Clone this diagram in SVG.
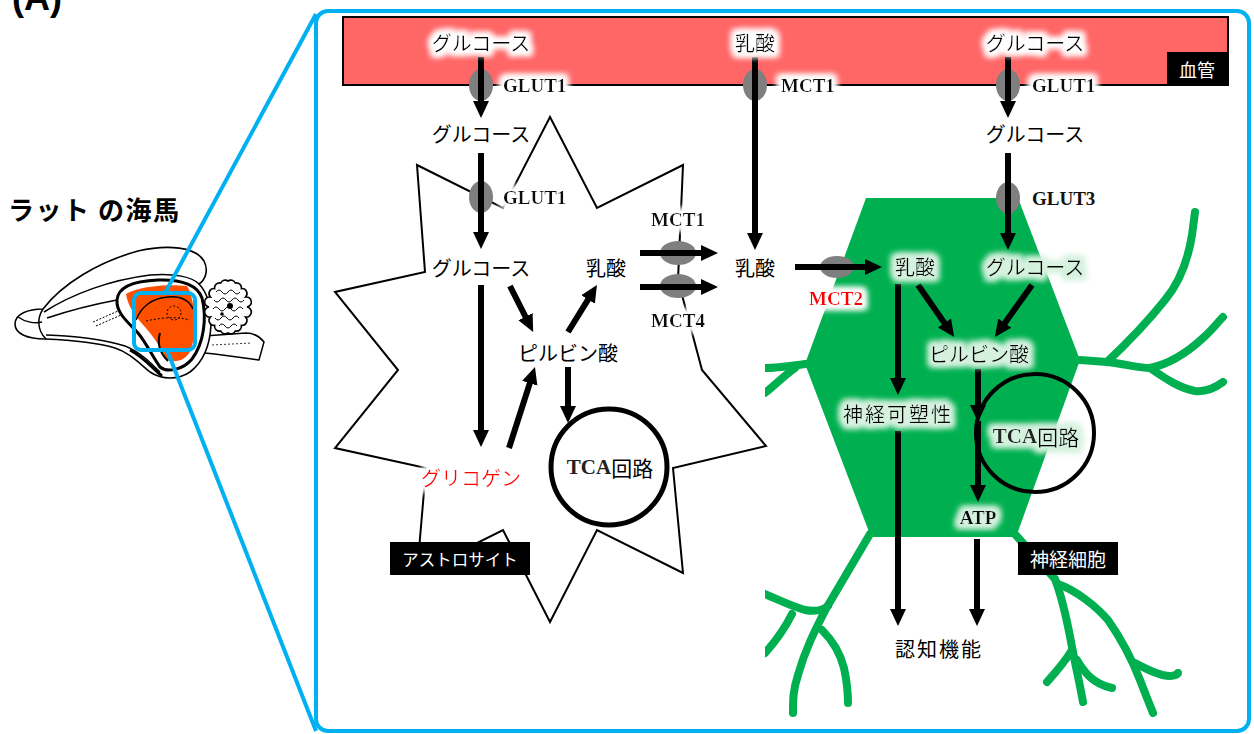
<svg xmlns="http://www.w3.org/2000/svg" width="1254" height="734" viewBox="0 0 1254 734">
  <style>
    .jp { font-family: "Noto Sans CJK JP", "Noto Sans", sans-serif; font-size: 20px; text-anchor: middle; dominant-baseline: central; fill: #000; }
    .tb { font-family: "Liberation Serif", "Times New Roman", serif; font-weight: bold; font-size: 19px; dominant-baseline: central; fill: #111; }
    .tag { fill: #000; }
    .tagt { font-family: "Noto Sans CJK JP", sans-serif; fill: #fff; text-anchor: middle; dominant-baseline: central; }
    .ar { stroke: #000; stroke-width: 6; fill: none; marker-end: url(#ah); }
    .tp { fill: #7f7f7f; }
    .den { fill: none; stroke: #00b050; stroke-width: 8; stroke-linecap: round; stroke-linejoin: round; }
    .gw { filter: url(#gw); }
    .gg { filter: url(#gg); }
    .ln { fill: none; stroke: #000; stroke-width: 1.5; }
  </style>
  <defs>
    <marker id="ah" markerUnits="userSpaceOnUse" markerWidth="18" markerHeight="18" viewBox="0 0 18 18" refX="2" refY="9" orient="auto">
      <path d="M0,1 L17,9 L0,17 Z" fill="#000"/>
    </marker>
    <filter id="gw" x="-30%" y="-70%" width="160%" height="240%">
      <feMorphology in="SourceAlpha" operator="dilate" radius="3.5" result="d"/>
      <feGaussianBlur in="d" stdDeviation="3" result="b"/>
      <feFlood flood-color="#ffffff"/>
      <feComposite in2="b" operator="in" result="g"/>
      <feMerge><feMergeNode in="g"/><feMergeNode in="g"/><feMergeNode in="SourceGraphic"/></feMerge>
    </filter>
    <filter id="gg" x="-30%" y="-70%" width="160%" height="240%">
      <feMorphology in="SourceAlpha" operator="dilate" radius="4" result="d"/>
      <feGaussianBlur in="d" stdDeviation="3" result="b"/>
      <feFlood flood-color="#d6f2df"/>
      <feComposite in2="b" operator="in" result="g"/>
      <feMerge><feMergeNode in="g"/><feMergeNode in="g"/><feMergeNode in="SourceGraphic"/></feMerge>
    </filter>
    <clipPath id="dclip"><rect x="765" y="0" width="489" height="734"/></clipPath>
  </defs>

  <rect width="1254" height="734" fill="#fff"/>

  <!-- panel letter and brain title -->
  <text x="12" y="10" font-family="Liberation Sans, Arial, sans-serif" font-weight="bold" font-size="36">(A)</text>
  <text x="8" y="208" font-family="Noto Sans CJK JP, sans-serif" font-weight="bold" font-size="26" letter-spacing="1.5" dominant-baseline="central">ラット の海馬</text>

  <!-- rat brain sketch -->
  <g id="brain">
    <!-- brainstem -->
    <path d="M204,336 L246,333 C254,333 260,337 264,342 L259,360 C245,358 225,355 205,353 Z" fill="#fff" stroke="#000" stroke-width="1.5"/>
    <path d="M212,345 L252,343" fill="none" stroke="#000" stroke-width="0.8" stroke-dasharray="2,2"/>
    <!-- cerebrum outline -->
    <path d="M43,309 C62,284 98,262 138,251 C168,244 196,247 204,261 C209,271 205,280 199,284 C207,292 212,308 211,325 C210,345 203,362 190,372 C178,380 162,380 150,372 C138,362 128,352 115,348 C95,342 68,340 45,339 C28,339 15,334 15,324 C15,314 28,309 43,309 Z" fill="#fff" stroke="#000" stroke-width="1.6"/>
    <!-- cortex flap inner edge -->
    <path class="ln" d="M44,312 C72,294 110,280 150,275 C175,273 192,277 199,284"/>
    <!-- olfactory bulb lobes -->
    <path class="ln" d="M43,309 C37,318 37,330 46,339"/>
    <path class="ln" d="M18,317 C25,322 35,324 42,322" stroke-width="1"/>
    <path class="ln" d="M47,318 C65,312 90,305 117,300" stroke-width="1"/>
    <!-- lower contour -->
    <path class="ln" d="M46,335 C75,336 105,340 125,346 C140,352 150,362 160,372"/>
    <path d="M130,350 C145,358 152,368 162,376" fill="none" stroke="#000" stroke-width="3"/>
    <path d="M93,322 L118,311 M96,326 L121,315" fill="none" stroke="#000" stroke-width="1" stroke-dasharray="2,1.5"/>
    <!-- cut-away cavity and hippocampus -->
    <path d="M117,300 C118,287 133,281 158,280 C183,279 198,286 202,298 C207,318 204,343 192,359 C183,370 167,373 160,367 C152,356 147,344 138,333 C128,322 116,313 117,300 Z" fill="#fff" stroke="#000" stroke-width="3"/>
    <path d="M126,294 C140,286 168,284 187,286 C195,298 197,330 191,350 C185,362 172,364 166,358 C160,346 153,336 145,327 C136,317 128,307 126,294 Z" fill="#ff5000"/>
    <path class="ln" d="M136,320 C141,307 152,298 168,297 C180,296 189,300 193,309"/>
    <path d="M160,333 C157,343 160,353 168,361" fill="none" stroke="#000" stroke-width="2"/>
    <path d="M146,321 C160,318 175,316 190,320" fill="none" stroke="#000" stroke-width="1" stroke-dasharray="2,2"/>
    <circle cx="174" cy="313" r="7" fill="none" stroke="#000" stroke-width="1" stroke-dasharray="2,2"/>
    <!-- cerebellum -->
    <path d="M247,307 A5,5 0 0 1 245.6,317 A5,5 0 0 1 241.4,325.4 A5,5 0 0 1 235.3,331 A5,5 0 0 1 228,333 A5,5 0 0 1 220.7,331 A5,5 0 0 1 214.6,325.4 A5,5 0 0 1 210.4,317 A5,5 0 0 1 209,307 A5,5 0 0 1 210.4,297 A5,5 0 0 1 214.6,288.6 A5,5 0 0 1 220.7,283 A5,5 0 0 1 228,281 A5,5 0 0 1 235.3,283 A5,5 0 0 1 241.4,288.6 A5,5 0 0 1 245.6,297 A5,5 0 0 1 247,307 Z" fill="#fff" stroke="#000" stroke-width="1.6"/>
    <g fill="none" stroke="#000" stroke-width="1">
      <path d="M216,292 q3,-4 6,0 q3,4 6,0 q3,-4 6,0 q3,4 6,0"/>
      <path d="M214,300 q3,4 6,0 q3,-4 6,0 q3,4 6,0 q3,-4 6,0 q3,4 6,0"/>
      <path d="M213,309 q3,-4 6,0 q3,4 6,0 q3,-4 6,0 q3,4 6,0 q3,-4 6,0"/>
      <path d="M215,318 q3,4 6,0 q3,-4 6,0 q3,4 6,0 q3,-4 6,0"/>
      <path d="M219,326 q3,-4 6,0 q3,4 6,0 q3,-4 6,0"/>
    </g>
    <circle cx="230" cy="306" r="3" fill="#000"/>
    <circle cx="222" cy="314" r="1.8" fill="#000"/>
  </g>

  <!-- zoom frame -->
  <g id="zoomframe" fill="none" stroke="#00b0f0" stroke-width="4">
    <line x1="316" y1="14" x2="165" y2="293"/>
    <line x1="167" y1="350" x2="316" y2="731"/>
    <rect x="134" y="293" width="61" height="57" rx="7"/>
  </g>
  <rect x="316" y="11" width="933" height="720" rx="12" fill="#fff" stroke="#00b0f0" stroke-width="4"/>

  <!-- blood vessel -->
  <g id="vessel">
    <rect x="343" y="17" width="885" height="68" fill="#ff6666" stroke="#000" stroke-width="2"/>
    <rect class="tag" x="1167" y="52" width="61" height="33"/>
    <text class="tagt" x="1197" y="69" font-size="18">血管</text>
  </g>

  <!-- astrocyte -->
  <g id="astrocyte">
    <polygon points="417,165 503,208 550,117 597,208 683,165 678,280 702,370 766,446 673,468 683,573 597,530 550,622 503,530 417,573 426,468 335,448 398,370 335,292 425,272" fill="#fff" stroke="#000" stroke-width="2"/>
    <circle cx="609" cy="467" r="58" fill="none" stroke="#000" stroke-width="5"/>
  </g>

  <!-- neuron -->
  <g id="neuron">
    <g clip-path="url(#dclip)">
      <path class="den" d="M1080,360 L1107,362 C1125,364 1140,368 1150,368 C1170,364 1190,350 1203,338 C1212,330 1218,322 1223,317"/>
      <path class="den" d="M1107,362 C1125,345 1145,325 1165,300 C1180,282 1188,260 1192,235 L1195,212"/>
      <path class="den" d="M1150,368 C1162,376 1178,388 1195,391 C1205,392 1215,388 1223,382"/>
      <path class="den" d="M805,364 C790,366 778,368 765,368"/>
      <path class="den" d="M795,368 C785,375 775,385 765,393"/>
      <path class="den" d="M870,534 L827,607 C815,630 805,650 798,675 C793,690 793,700 793,713"/>
      <path class="den" d="M760,592 C775,598 790,606 805,610 C815,612 823,610 828,606"/>
      <path class="den" d="M792,614 C785,628 775,642 765,653"/>
      <path class="den" d="M822,630 C832,640 840,652 844,668 C847,682 848,693 848,703"/>
      <path class="den" d="M1013,532 L1055,579 C1063,600 1068,625 1072,647 C1076,668 1080,685 1083,702"/>
      <path class="den" d="M1072,650 C1066,660 1056,672 1047,682"/>
      <path class="den" d="M1077,660 C1084,672 1093,684 1112,688"/>
      <path class="den" d="M1058,584 C1075,590 1095,605 1108,620 C1122,640 1133,662 1140,680 C1145,693 1149,703 1153,713"/>
      <path class="den" d="M1135,663 C1148,670 1160,676 1170,676 C1175,676 1178,674 1178,673"/>
    </g>
    <polygon points="866,198 1018,198 1080,360 1016,537 871,537 805,364" fill="#00b050"/>
    <circle cx="1035" cy="433" r="59" fill="none" stroke="#000" stroke-width="4"/>
  </g>

  <!-- transporters -->
  <g id="transporters">
    <ellipse class="tp" cx="481" cy="85" rx="12" ry="16"/>
    <ellipse class="tp" cx="755" cy="85" rx="12" ry="16"/>
    <ellipse class="tp" cx="1008" cy="85" rx="12" ry="16"/>
    <ellipse class="tp" cx="481" cy="197" rx="12" ry="16"/>
    <ellipse class="tp" cx="1008" cy="198" rx="12" ry="16"/>
    <ellipse class="tp" cx="678" cy="253" rx="18" ry="12"/>
    <ellipse class="tp" cx="678" cy="286" rx="18" ry="12"/>
    <ellipse class="tp" cx="837" cy="267" rx="17" ry="11"/>
  </g>

  <!-- connectors -->
  <g id="connectors">
    <line class="ar" x1="481" y1="57" x2="481" y2="103"/>
    <line class="ar" x1="755" y1="57" x2="755" y2="235"/>
    <line class="ar" x1="1008" y1="57" x2="1008" y2="103"/>
    <line class="ar" x1="481" y1="153" x2="481" y2="234"/>
    <line class="ar" x1="1008" y1="153" x2="1008" y2="235"/>
    <line class="ar" x1="481" y1="285" x2="481" y2="432"/>
    <line class="ar" x1="510" y1="286" x2="526.4" y2="318.5"/>
    <line class="ar" x1="568" y1="332" x2="589.1" y2="297.8"/>
    <line class="ar" x1="509" y1="448" x2="530.4" y2="381.3"/>
    <line class="ar" x1="568" y1="367" x2="568" y2="408"/>
    <line class="ar" x1="640" y1="253" x2="703" y2="253"/>
    <line class="ar" x1="640" y1="287" x2="703" y2="287"/>
    <line class="ar" x1="795" y1="267" x2="867" y2="267"/>
    <line class="ar" x1="898" y1="284" x2="898" y2="380"/>
    <line class="ar" x1="918" y1="285" x2="945.6" y2="324.6"/>
    <line class="ar" x1="1032" y1="285" x2="1003.6" y2="324.7"/>
    <line class="ar" x1="978" y1="369" x2="978" y2="407"/>
    <line class="ar" x1="978" y1="421" x2="978" y2="487"/>
    <line class="ar" x1="898" y1="431" x2="898" y2="611"/>
    <line class="ar" x1="977" y1="539" x2="977" y2="611"/>
  </g>

  <!-- labels: vessel side -->
  <g id="vessel-labels">
    <text class="jp gw" x="481" y="42">グルコース</text>
    <text class="jp gw" x="755" y="42">乳酸</text>
    <text class="jp gw" x="1035" y="42">グルコース</text>
    <text class="tb gw" x="503" y="85">GLUT1</text>
    <text class="tb gw" x="781" y="85">MCT1</text>
    <text class="tb gw" x="1032" y="85">GLUT1</text>
  </g>

  <!-- labels: astrocyte side -->
  <g id="astro-labels">
    <text class="jp" x="481" y="133">グルコース</text>
    <text class="tb gw" x="503" y="197">GLUT1</text>
    <text class="jp" x="481" y="267">グルコース</text>
    <text class="jp" x="606" y="267">乳酸</text>
    <text class="jp" x="568" y="352">ピルビン酸</text>
    <text class="jp gw" x="471" y="477" style="fill:#ff0000">グリコゲン</text>
    <text class="jp" x="610" y="467"><tspan font-family="Liberation Serif, serif" font-weight="bold" font-size="21" fill="#222">TCA</tspan><tspan font-size="21">回路</tspan></text>
    <text class="tb gw" x="678" y="219" text-anchor="middle">MCT1</text>
    <text class="tb gw" x="678" y="320" text-anchor="middle">MCT4</text>
    <rect class="tag" x="390" y="542" width="140" height="33"/>
    <text class="tagt" x="460" y="559" font-size="16.5">アストロサイト</text>
  </g>

  <!-- labels: extracellular and neuron side -->
  <g id="neuron-labels">
    <text class="jp" x="1035" y="133">グルコース</text>
    <text class="tb" x="1032" y="198">GLUT3</text>
    <text class="jp" x="755" y="267">乳酸</text>
    <text class="tb gw" x="836" y="298" text-anchor="middle" style="fill:#ff0000">MCT2</text>
    <text class="jp gg" x="915" y="266">乳酸</text>
    <text class="jp gg" x="1035" y="266">グルコース</text>
    <text class="jp gg" x="979" y="353">ピルビン酸</text>
    <text class="jp gg" x="898" y="413" letter-spacing="2">神経可塑性</text>
    <text class="jp gg" x="1036" y="436"><tspan font-family="Liberation Serif, serif" font-weight="bold" font-size="21" fill="#222">TCA</tspan><tspan font-size="21">回路</tspan></text>
    <text class="tb gg" x="978" y="517" text-anchor="middle" font-size="20">ATP</text>
    <text class="jp" x="939" y="648" letter-spacing="2">認知機能</text>
    <rect class="tag" x="1018" y="542" width="100" height="33"/>
    <text class="tagt" x="1068" y="558" font-size="19">神経細胞</text>
  </g>
</svg>
